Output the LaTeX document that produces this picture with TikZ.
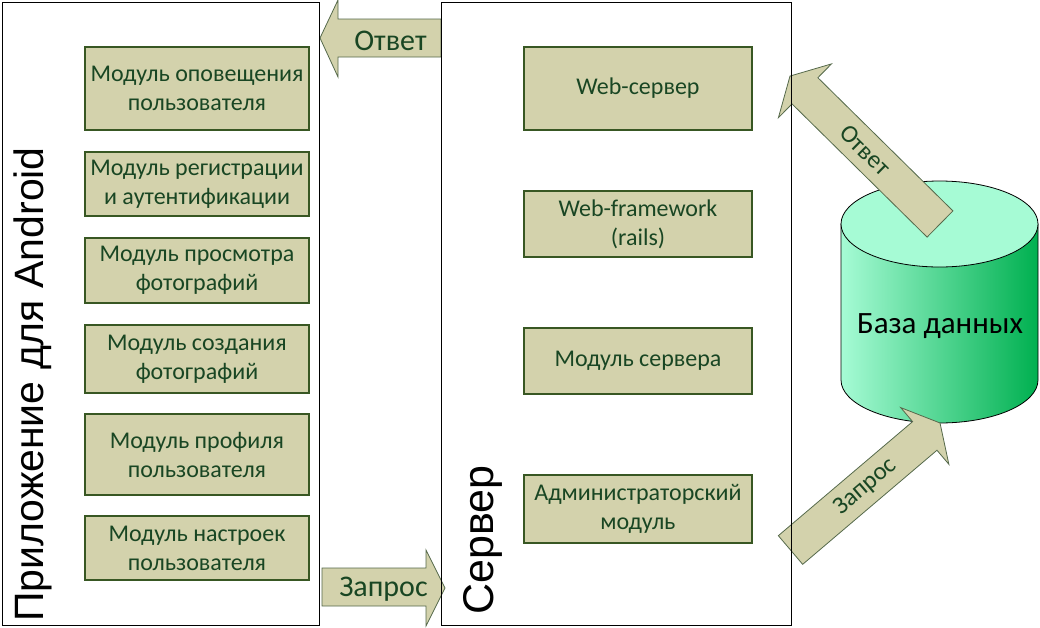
\documentclass[tikz,border=0pt]{standalone}
\usepackage{fontspec}
\setmainfont{Carlito}
\newfontfamily\labelfont{Liberation Sans}
\usetikzlibrary{positioning}
\definecolor{modfill}{RGB}{211,210,172}
\definecolor{modedge}{RGB}{56,87,35}
\definecolor{modtext}{RGB}{25,70,35}
\definecolor{arrowedge}{RGB}{85,105,75}
\definecolor{dblight}{RGB}{166,251,213}
\definecolor{dbdark}{RGB}{0,176,80}

\begin{document}
\begin{tikzpicture}[x=1pt, y=-1pt,
    panel/.style={rectangle, draw=black, line width=1pt, inner sep=0pt},
    module/.style={rectangle, draw=modedge, line width=1.2pt, fill=modfill, text=modtext, align=center, inner sep=0pt, font=\fontsize{24}{29}\selectfont},
    appmod/.style={module, minimum width=224pt},
    servermod/.style={module, minimum width=228pt},
    blockarrow/.style={draw=arrowedge, line width=0.8pt, fill=modfill, line join=miter},
    arrowlabel/.style={text=modtext, inner sep=0pt, font=\fontsize{30}{34}\selectfont},
    diaglabel/.style={text=modtext, inner sep=0pt, font=\fontsize{25}{30}\selectfont},
    sidelabel/.style={rotate=90, anchor=base west, inner sep=0pt, font=\labelfont\fontsize{43}{50}\selectfont}
]
    \useasboundingbox (0,0) rectangle (1040,627);

    % база данных
    \shade[left color=dblight, right color=dbdark, draw=black, line width=0.8pt]
        (841,224) -- (841,380) arc[start angle=180, end angle=0, x radius=98.5, y radius=43] -- (1038,224) -- cycle;
    \draw[fill=dblight, line width=0.8pt] (939.5,224) ellipse[x radius=98.5, y radius=43];
    \node[anchor=base, inner sep=0pt, font=\fontsize{31}{36}\selectfont] (db) at (940,333) {База данных};

    % стрелки между клиентом и сервером
    \draw[blockarrow] (441,19) -- (338,19) -- (338,0) -- (320,38) -- (338,77) -- (338,57) -- (441,57) -- cycle;
    \node[arrowlabel, anchor=base] (answer) at (390.5,50) {Ответ};
    \draw[blockarrow] (322,568) -- (426,568) -- (426,550) -- (445,588) -- (426,626) -- (426,606) -- (322,606) -- cycle;
    \node[arrowlabel, anchor=base] (request) at (383.5,596) {Запрос};

    % стрелки между сервером и базой
    \begin{scope}[shift={(940,224)}, rotate=135.4]
        \draw[blockarrow] (0,-18.4) -- (189.7,-18.4) -- (189.7,-37.8) -- (210.7,0) -- (189.7,37.8) -- (189.7,18.4) -- (0,18.4) -- cycle;
        \node[diaglabel, rotate=-44.6] (dbanswer) at (105,0) {Ответ};
    \end{scope}
    \begin{scope}[shift={(790.5,550)}, rotate=40.35]
        \draw[blockarrow] (0,-18.8) -- (176.2,-18.8) -- (176.2,-37.2) -- (196.2,0) -- (176.2,37.2) -- (176.2,18.8) -- (0,18.8) -- cycle;
        \node[diaglabel, rotate=40.35] (dbrequest) at (98,0) {Запрос};
    \end{scope}

    % приложение
    \node[panel, minimum width=317pt, minimum height=623pt] (app) at (160.5,313.5) {};
    \node[sidelabel, font=\labelfont\fontsize{41}{48}\selectfont] (applabel) at (43.5,622) {Приложение для Android};
    \node[appmod, minimum height=83pt] (notify) at (197,88.5) {Модуль оповещения\\пользователя};
    \node[appmod, minimum height=64pt] (auth) at (197,184) {Модуль регистрации\\и аутентификации};
    \node[appmod, minimum height=65pt] (viewer) at (197,270.5) {Модуль просмотра\\фотографий};
    \node[appmod, minimum height=68pt] (camera) at (197,359) {Модуль создания\\фотографий};
    \node[appmod, minimum height=81pt] (profile) at (197,454.5) {Модуль профиля\\пользователя};
    \node[appmod, minimum height=64pt] (settings) at (197,548) {Модуль настроек\\пользователя};

    % сервер
    \node[panel, minimum width=350pt, minimum height=623pt] (srv) at (616,313.5) {};
    \node[sidelabel] (srvlabel) at (493,615) {Сервер};
    \node[servermod, minimum height=83pt] (websrv) at (638,88.5) {Web-сервер};
    \node[servermod, minimum height=66pt] (framework) at (638,224) {Web-framework\\(rails)};
    \node[servermod, minimum height=66pt] (srvcore) at (638,361) {Модуль сервера};
    \node[servermod, minimum height=68pt] (admin) at (638,509) {Администраторский\\модуль};
\end{tikzpicture}
\end{document}
